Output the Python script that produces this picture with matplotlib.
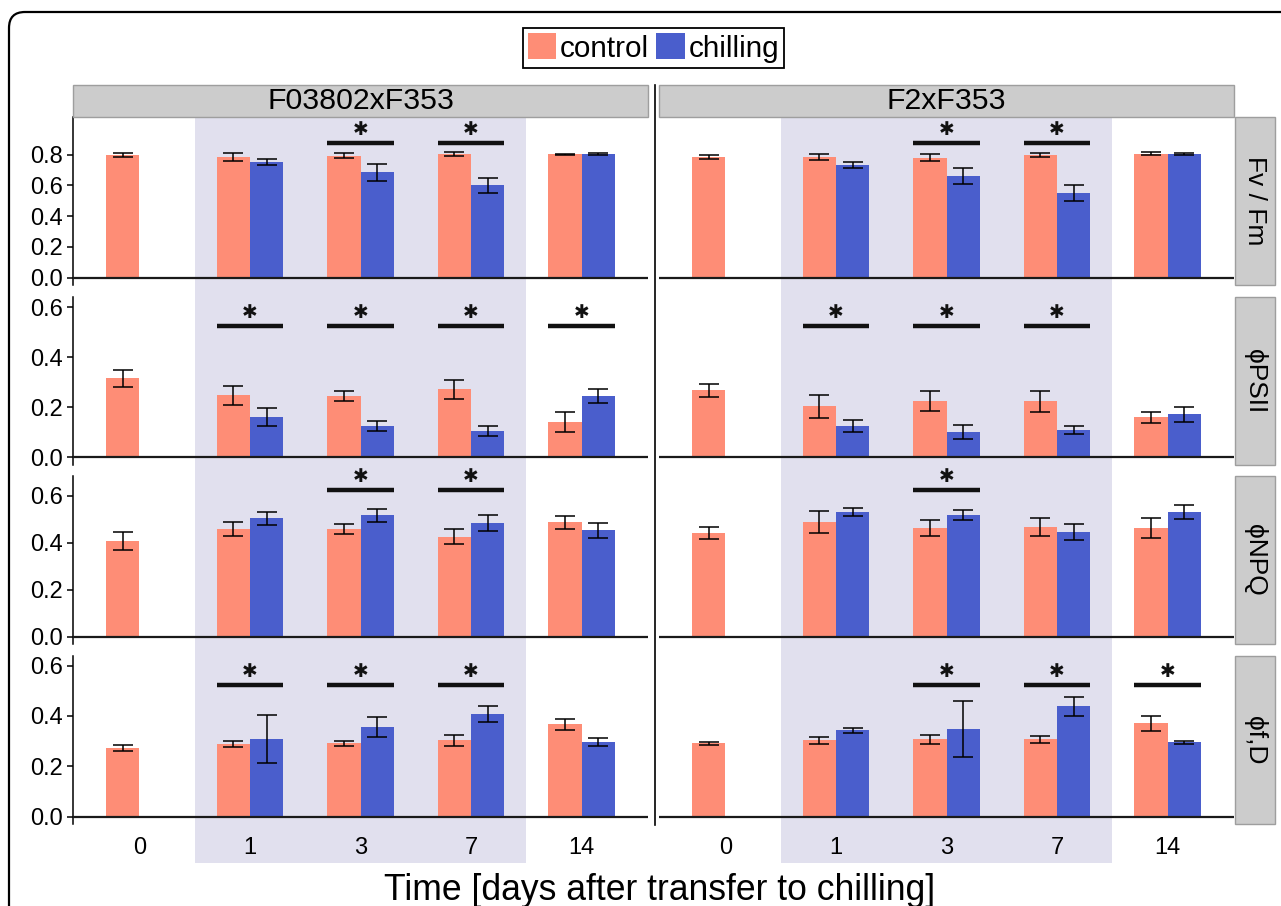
import numpy as np
import matplotlib
matplotlib.use('Agg')
import matplotlib.pyplot as plt
from matplotlib import transforms
from matplotlib.lines import Line2D
from matplotlib.patches import Rectangle, FancyBboxPatch, Patch

plt.rcParams['font.family'] = ['Liberation Sans', 'DejaVu Sans']

days = ['0', '1', '3', '7', '14']
crosses = ['F03802xF353', 'F2xF353']
params = ['Fv / Fm', 'ϕPSII', 'ϕNPQ', 'ϕf,D']

# F03802xF353 -- control has all days, chilling starts at day 1
a_fvfm_ctrl = [0.798, 0.785, 0.792, 0.803, 0.803]
a_fvfm_ctrl_se = [0.010, 0.025, 0.016, 0.014, 0.004]
a_fvfm_chill = [0.751, 0.685, 0.601, 0.803]
a_fvfm_chill_se = [0.020, 0.055, 0.048, 0.007]
a_fvfm_sig = ['3', '7']

a_psii_ctrl = [0.316, 0.248, 0.244, 0.272, 0.140]
a_psii_ctrl_se = [0.033, 0.037, 0.021, 0.038, 0.040]
a_psii_chill = [0.161, 0.125, 0.104, 0.244]
a_psii_chill_se = [0.035, 0.020, 0.021, 0.028]
a_psii_sig = ['1', '3', '7', '14']

a_npq_ctrl = [0.406, 0.459, 0.459, 0.425, 0.487]
a_npq_ctrl_se = [0.038, 0.031, 0.021, 0.032, 0.027]
a_npq_chill = [0.504, 0.517, 0.483, 0.453]
a_npq_chill_se = [0.028, 0.028, 0.033, 0.033]
a_npq_sig = ['3', '7']

a_fd_ctrl = [0.273, 0.289, 0.291, 0.303, 0.367]
a_fd_ctrl_se = [0.011, 0.013, 0.011, 0.023, 0.022]
a_fd_chill = [0.309, 0.356, 0.408, 0.297]
a_fd_chill_se = [0.094, 0.038, 0.031, 0.016]
a_fd_sig = ['1', '3', '7']

# F2xF353
b_fvfm_ctrl = [0.785, 0.785, 0.779, 0.798, 0.805]
b_fvfm_ctrl_se = [0.011, 0.017, 0.023, 0.013, 0.010]
b_fvfm_chill = [0.733, 0.661, 0.551, 0.805]
b_fvfm_chill_se = [0.018, 0.050, 0.054, 0.008]
b_fvfm_sig = ['3', '7']

b_psii_ctrl = [0.268, 0.204, 0.224, 0.224, 0.160]
b_psii_ctrl_se = [0.026, 0.047, 0.040, 0.043, 0.022]
b_psii_chill = [0.124, 0.100, 0.108, 0.172]
b_psii_chill_se = [0.025, 0.027, 0.017, 0.031]
b_psii_sig = ['1', '3', '7']

b_npq_ctrl = [0.442, 0.488, 0.463, 0.467, 0.463]
b_npq_ctrl_se = [0.025, 0.048, 0.035, 0.037, 0.044]
b_npq_chill = [0.531, 0.518, 0.446, 0.531]
b_npq_chill_se = [0.017, 0.021, 0.033, 0.030]
b_npq_sig = ['3']

b_fd_ctrl = [0.291, 0.303, 0.307, 0.307, 0.371]
b_fd_ctrl_se = [0.007, 0.014, 0.017, 0.014, 0.030]
b_fd_chill = [0.343, 0.348, 0.438, 0.295]
b_fd_chill_se = [0.009, 0.111, 0.038, 0.007]
b_fd_sig = ['3', '7', '14']

# height of the significance bars per parameter row
sig_level = [0.876, 0.525, 0.624, 0.524]
y_limits = [(-0.047, 1.045), (-0.031, 0.641), (-0.031, 0.684), (-0.029, 0.638)]
y_ticks = [[0.0, 0.2, 0.4, 0.6, 0.8], [0.0, 0.2, 0.4, 0.6],
           [0.0, 0.2, 0.4, 0.6], [0.0, 0.2, 0.4, 0.6]]

panels = {
    ('F03802xF353', 'Fv / Fm'): (a_fvfm_ctrl, a_fvfm_ctrl_se, a_fvfm_chill, a_fvfm_chill_se, a_fvfm_sig),
    ('F03802xF353', 'ϕPSII'): (a_psii_ctrl, a_psii_ctrl_se, a_psii_chill, a_psii_chill_se, a_psii_sig),
    ('F03802xF353', 'ϕNPQ'): (a_npq_ctrl, a_npq_ctrl_se, a_npq_chill, a_npq_chill_se, a_npq_sig),
    ('F03802xF353', 'ϕf,D'): (a_fd_ctrl, a_fd_ctrl_se, a_fd_chill, a_fd_chill_se, a_fd_sig),
    ('F2xF353', 'Fv / Fm'): (b_fvfm_ctrl, b_fvfm_ctrl_se, b_fvfm_chill, b_fvfm_chill_se, b_fvfm_sig),
    ('F2xF353', 'ϕPSII'): (b_psii_ctrl, b_psii_ctrl_se, b_psii_chill, b_psii_chill_se, b_psii_sig),
    ('F2xF353', 'ϕNPQ'): (b_npq_ctrl, b_npq_ctrl_se, b_npq_chill, b_npq_chill_se, b_npq_sig),
    ('F2xF353', 'ϕf,D'): (b_fd_ctrl, b_fd_ctrl_se, b_fd_chill, b_fd_chill_se, b_fd_sig),
}

c_ctrl = '#FE8D76'
c_chill = '#4A5ECC'
c_shade = '#E1E0EE'
c_strip = '#CCCCCC'

W, H = 1281, 906
fig = plt.figure(figsize=(W / 100, H / 100), dpi=100)


def fx(px):
    return px / W


def fy(py):
    return 1 - py / H


col_left = [73, 659]
panel_w = 575
row_top = [117, 297, 476, 656]
panel_h = 168

x = np.arange(1, len(days) + 1)
bw = 0.3

for c, cross in enumerate(crosses):
    for r, param in enumerate(params):
        ax = fig.add_axes([fx(col_left[c]), fy(row_top[r] + panel_h), panel_w / W, panel_h / H])
        ax.patch.set_visible(False)
        ctrl, ctrl_se, chill, chill_se, sig = panels[(cross, param)]

        ax.bar(x - bw / 2, ctrl, width=bw, color=c_ctrl, zorder=2)
        ax.bar(x[1:] + bw / 2, chill, width=bw, color=c_chill, zorder=2)
        ax.errorbar(x - bw / 2, ctrl, yerr=ctrl_se, fmt='none', ecolor='black',
                    elinewidth=1.1, capsize=7, capthick=1.1, zorder=3)
        ax.errorbar(x[1:] + bw / 2, chill, yerr=chill_se, fmt='none', ecolor='black',
                    elinewidth=1.1, capsize=7, capthick=1.1, zorder=3)
        ax.axhline(0, color='#1a1a1a', lw=1.6, zorder=4)

        for d in sig:
            i = days.index(d) + 1
            ax.plot([i - bw, i + bw], [sig_level[r]] * 2, color='#111111', lw=3.2,
                    solid_capstyle='butt', zorder=4)
            ax.annotate('✱', (i, sig_level[r]), xytext=(0, 9.5), textcoords='offset points',
                        ha='center', va='center', fontsize=13.5, family='DejaVu Sans',
                        color='#111111', zorder=4)

        ax.set_xlim(0.4, 5.6)
        ax.set_ylim(*y_limits[r])
        for s in ['top', 'right', 'bottom']:
            ax.spines[s].set_visible(False)

        if c == 0:
            ax.spines['left'].set_linewidth(1.1)
            ax.set_yticks(y_ticks[r], [f'{t:.1f}' for t in y_ticks[r]])
            ax.tick_params(axis='y', length=4.3, width=1.1, pad=3, labelsize=17)
        else:
            ax.spines['left'].set_visible(False)
            ax.set_yticks([])

        if r == len(params) - 1:
            ax.set_xticks(x, days)
            ax.tick_params(axis='x', length=0, pad=9, labelsize=17)
            # chilling period band, running behind all rows of this column
            band = transforms.blended_transform_factory(ax.transData, fig.transFigure)
            fig.add_artist(Rectangle((1.5, fy(863)), 3.0, (863 - 117) / H, transform=band,
                                     facecolor=c_shade, edgecolor='none', zorder=-1))
        else:
            ax.set_xticks([])

        # row labels on the right
        if c == 1:
            fig.add_artist(Rectangle((fx(1235), fy(row_top[r] + panel_h)), 40 / W, panel_h / H,
                                     transform=fig.transFigure, facecolor=c_strip,
                                     edgecolor='#9E9E9E', lw=1))
            fig.text(fx(1255), fy(row_top[r] + panel_h / 2), param, rotation=-90,
                     ha='center', va='center', fontsize=19)

    # column headers
    fig.add_artist(Rectangle((fx(col_left[c]), fy(117)), panel_w / W, 32 / H,
                             transform=fig.transFigure, facecolor=c_strip,
                             edgecolor='#9E9E9E', lw=1))
    fig.text(fx(col_left[c] + panel_w / 2), fy(101), cross, ha='center', va='center',
             fontsize=21.8)

# separator line in front of the right column
fig.add_artist(Line2D([fx(655), fx(655)], [fy(85), fy(825)], color='black', lw=1.2))

handles = [Patch(facecolor=c_ctrl, edgecolor='none'), Patch(facecolor=c_chill, edgecolor='none')]
leg = fig.legend(handles, ['control', 'chilling'], loc='center',
                 bbox_to_anchor=(fx(653.5), fy(48)), ncol=2, fontsize=21.4,
                 frameon=True, fancybox=False, edgecolor='black', framealpha=1,
                 handlelength=0.95, handleheight=0.95, handletextpad=0.12,
                 columnspacing=0.25, borderpad=0.18, borderaxespad=0)
leg.get_frame().set_linewidth(1.3)

fig.text(fx(660), fy(900), 'Time [days after transfer to chilling]', ha='center',
         va='baseline', fontsize=25.6)

# outer rounded frame
fig.add_artist(FancyBboxPatch((9, -60), 1400, H - 12 + 60,
                              boxstyle='round,pad=0,rounding_size=16',
                              transform=transforms.IdentityTransform(),
                              fill=False, edgecolor='black', lw=1.6))

fig.savefig('out.png', dpi=100)
